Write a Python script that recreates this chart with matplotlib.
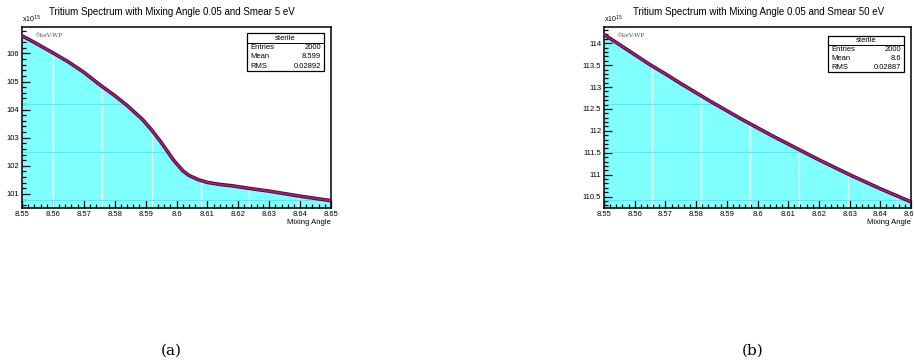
import matplotlib
matplotlib.use('Agg')
import matplotlib.pyplot as plt
from matplotlib.ticker import MultipleLocator, AutoMinorLocator
from matplotlib.patches import Rectangle

plt.rcParams['font.family'] = ['Liberation Sans', 'DejaVu Sans']

# panel (a): smear 5 eV, values in units of 1e15
angle_a = [8.550, 8.555, 8.560, 8.565, 8.570, 8.575, 8.580, 8.584, 8.587, 8.589,
           8.592, 8.595, 8.599, 8.602, 8.604, 8.607, 8.610, 8.614, 8.618, 8.624,
           8.630, 8.635, 8.640, 8.645, 8.650]
count_a = [106.63, 106.33, 106.02, 105.70, 105.33, 104.90, 104.50, 104.15, 103.85, 103.65,
           103.27, 102.84, 102.21, 101.83, 101.66, 101.51, 101.41, 101.34, 101.29, 101.19,
           101.10, 101.01, 100.92, 100.84, 100.76]

# panel (b): smear 50 eV
angle_b = [8.550, 8.555, 8.560, 8.565, 8.570, 8.575, 8.580, 8.585, 8.590, 8.595, 8.600,
           8.605, 8.610, 8.615, 8.620, 8.625, 8.630, 8.635, 8.640, 8.645, 8.650]
count_b = [114.20, 113.97, 113.74, 113.51, 113.30, 113.08, 112.87, 112.66, 112.46, 112.26, 112.07,
           111.88, 111.70, 111.52, 111.34, 111.17, 111.00, 110.84, 110.68, 110.53, 110.38]

stats_a = [('Entries', '2000'), ('Mean', '8.599'), ('RMS', '0.02892')]
stats_b = [('Entries', '2000'), ('Mean', '8.6'), ('RMS', '0.02887')]

# bin seams visible in the fill
seams_a = [8.5601, 8.5760, 8.5920, 8.6078, 8.6236, 8.6394]
seams_b = [8.5656, 8.5817, 8.5977, 8.6135, 8.6295, 8.6455]
bands_a = [104.19, 102.50, 100.80]
bands_b = [112.62, 111.52, 110.42]

W, H = 914, 363
fig = plt.figure(figsize=(W / 100, H / 100), dpi=100)


def stats_box(ax, rows, x0, y0, x1, y1):
    ax.add_patch(Rectangle((x0, y0), x1 - x0, y1 - y0, transform=ax.transAxes,
                           fill=True, facecolor='white', edgecolor='black', lw=0.9, zorder=6))
    rh = (y1 - y0) / 4
    ax.plot([x0, x1], [y1 - rh, y1 - rh], transform=ax.transAxes, color='black', lw=0.7, zorder=7)
    ax.text((x0 + x1) / 2, y1 - rh / 2, 'sterile', transform=ax.transAxes, ha='center',
            va='center', fontsize=5.5, zorder=8)
    for i, (k, v) in enumerate(rows):
        yy = y1 - rh * (i + 1.5)
        ax.text(x0 + 0.01, yy, k, transform=ax.transAxes, ha='left', va='center', fontsize=5.5, zorder=8)
        ax.text(x1 - 0.01, yy, v, transform=ax.transAxes, ha='right', va='center', fontsize=5.5, zorder=8)


def panel(rect, x, y, ylim, ymajor, seams, bands, rows, title, tx, box):
    ax = fig.add_axes(rect)
    ax.set_xlim(8.55, 8.65)
    ax.set_ylim(*ylim)
    poly = ax.fill_between(x, ylim[0], y, color='#80ffff', lw=0, zorder=1)
    for s in seams:
        ln = ax.axvline(s, color='white', lw=0.9, zorder=2)
        ln.set_clip_path(poly.get_paths()[0], poly.get_transform())
    for b in bands:
        ln = ax.axhline(b, color='#5fe6ee', lw=0.8, zorder=2)
        ln.set_clip_path(poly.get_paths()[0], poly.get_transform())
    ax.plot(x, y, color='#1a1a9a', lw=2.6, zorder=3, solid_capstyle='butt')
    ax.plot(x, y, color='#ee1111', lw=1.1, zorder=4, solid_capstyle='butt')
    ax.xaxis.set_major_locator(MultipleLocator(0.01))
    ax.xaxis.set_minor_locator(AutoMinorLocator(5))
    ax.yaxis.set_major_locator(MultipleLocator(ymajor))
    ax.yaxis.set_minor_locator(AutoMinorLocator(5))
    ax.xaxis.set_major_formatter(plt.FuncFormatter(lambda v, p: ('%.3f' % v).rstrip('0').rstrip('.')))
    ax.yaxis.set_major_formatter(plt.FuncFormatter(lambda v, p: ('%.1f' % v).rstrip('0').rstrip('.')))
    ax.tick_params(which='both', direction='in', labelsize=5.5, width=0.9, pad=2)
    ax.tick_params(which='major', length=6)
    ax.tick_params(which='minor', length=3)
    for sp in ax.spines.values():
        sp.set_linewidth(1.1)
    ax.text(1.0, -0.079, 'Mixing Angle', transform=ax.transAxes, ha='right', va='center', fontsize=5.5)
    ax.text(0.0, 1.01, 'x10$^{15}$', transform=ax.transAxes, ha='left', va='bottom', fontsize=5)
    ax.text(0.04, 0.955, '\u00a9keV-WP', transform=ax.transAxes, ha='left', va='center',
            fontsize=4.2, family='DejaVu Serif', color='#555555')
    stats_box(ax, rows, *box)
    fig.text(tx, 1 - 12 / H, title, ha='center', va='center', fontsize=7)
    return ax


panel([22 / W, 1 - 208 / H, 309 / W, 181 / H], angle_a, count_a, (100.5, 106.94), 1,
      seams_a, bands_a, stats_a, 'Tritium Spectrum with Mixing Angle 0.05 and Smear 5 eV',
      172 / W, (0.728, 0.757, 0.977, 0.965))
panel([604 / W, 1 - 208 / H, 307 / W, 181 / H], angle_b, count_b, (110.24, 114.37), 0.5,
      seams_b, bands_b, stats_b, 'Tritium Spectrum with Mixing Angle 0.05 and Smear 50 eV',
      759 / W, (0.73, 0.751, 0.977, 0.95))

fig.text(171 / W, 1 - 351 / H, '(a)', ha='center', va='center', fontsize=11, family='DejaVu Serif')
fig.text(753 / W, 1 - 351 / H, '(b)', ha='center', va='center', fontsize=11, family='DejaVu Serif')

fig.savefig('out.png', dpi=100)
